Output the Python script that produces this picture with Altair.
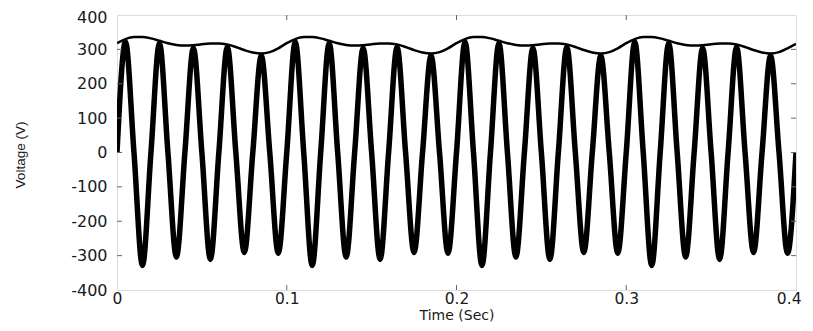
import altair as alt
import pandas as pd

# ---- data ----
# upper envelope, sampled every 0.005 s from 0 to 0.4 s (V)
envelope = [
    318, 330, 336, 336, 332, 325, 318, 313, 311, 312, 315, 317, 317, 314, 307, 298, 291, 288, 292, 303,
    318, 330, 336, 336, 332, 325, 318, 313, 311, 312, 315, 317, 317, 314, 307, 298, 291, 288, 292, 303,
    318, 330, 336, 336, 332, 325, 318, 313, 311, 312, 315, 317, 317, 314, 307, 298, 291, 288, 292, 303,
    318, 330, 336, 336, 332, 325, 318, 313, 311, 312, 315, 317, 317, 314, 307, 298, 291, 288, 292, 303,
    316,
]
# positive peaks of the 50 Hz wave (at 0.005 + 0.02k s)
pos_peaks = [322, 318, 304, 307, 282,
             322, 318, 304, 307, 282,
             322, 318, 304, 307, 282,
             322, 318, 304, 307, 282]
# negative peaks (at 0.015 + 0.02k s)
neg_peaks = [-329, -304, -311, -291, -293,
             -329, -304, -311, -291, -293,
             -329, -304, -311, -291, -293,
             -329, -304, -311, -291, -293]

x_ticks = [0, 0.1, 0.2, 0.3, 0.4]
y_ticks = [-400, -300, -200, -100, 0, 100, 200, 300, 400]
inner_x_ticks = [0.1, 0.2, 0.3]
inner_y_ticks = [-300, -200, -100, 0, 100, 200, 300]

step = 0.005

# ---- tables ----
env_df = pd.DataFrame({"t": [round(i * step, 3) for i in range(len(envelope))], "v": envelope})
sine_t, sine_v = [], []
for k in range(len(envelope)):
    sine_t.append(round(k * step, 3))
    if k % 2 == 0:
        sine_v.append(0)
    elif k % 4 == 1:
        sine_v.append(pos_peaks[k // 4])
    else:
        sine_v.append(neg_peaks[k // 4])
sine_df = pd.DataFrame({"t": sine_t, "v": sine_v})

W, H = 679, 275
LFONT = "DejaVu Sans"
TFONT = "Liberation Sans"

x_scale = alt.Scale(domain=[0, 0.4], nice=False, zero=False)
y_scale = alt.Scale(domain=[-400, 400], nice=False, zero=False)

x_axis = alt.Axis(
    values=x_ticks, format="~g", title="Time (Sec)", ticks=False, grid=False, domain=False,
    labelFont=LFONT, labelFontSize=15.5, labelColor="#1a1a1a", labelPadding=1,
    labelFlush=True, labelFlushOffset=5, labelOverlap=False,
    titleFont=LFONT, titleFontSize=14, titleFontWeight="normal", titleColor="#1a1a1a",
    titlePadding=2)
y_axis = alt.Axis(
    values=y_ticks, title="Voltage (V)", ticks=False, grid=False, domain=False,
    labelExpr="datum.value < 0 ? '-' + abs(datum.value) : '' + datum.value",
    labelFont=LFONT, labelFontSize=16, labelColor="#1a1a1a", labelPadding=10,
    labelOverlap=False, labelFlush=False,
    labelOffset={"condition": {"test": "datum.value == 400", "value": 2}, "value": 0},
    titleFont=TFONT, titleFontSize=13.5, titleFontWeight="normal", titleColor="#1a1a1a",
    titleX=-90, titleY=H / 2 + 2, titleAnchor="middle")


def X():
    return alt.X("t:Q", scale=x_scale, axis=x_axis)


def Y():
    return alt.Y("v:Q", scale=y_scale, axis=y_axis)


sine = alt.Chart(sine_df).mark_line(
    color="black", strokeWidth=5.5, interpolate="monotone", clip=True
).encode(x=X(), y=Y())

env = alt.Chart(env_df).mark_line(
    color="black", strokeWidth=2.5, interpolate="monotone", clip=True
).encode(x=X(), y=Y())

tick_col = "#666"
xt = pd.DataFrame({"t": inner_x_ticks})
yt = pd.DataFrame({"v": inner_y_ticks})
bottom_ticks = alt.Chart(xt).mark_rule(color=tick_col, strokeWidth=1).encode(
    x=X(), y=alt.value(H), y2=alt.value(H - 5))
top_ticks = alt.Chart(xt).mark_rule(color=tick_col, strokeWidth=1).encode(
    x=X(), y=alt.value(0), y2=alt.value(5))
left_ticks = alt.Chart(yt).mark_rule(color=tick_col, strokeWidth=1).encode(
    y=Y(), x=alt.value(0), x2=alt.value(5))
right_ticks = alt.Chart(yt).mark_rule(color=tick_col, strokeWidth=1).encode(
    y=Y(), x=alt.value(W), x2=alt.value(W - 5))

chart = alt.layer(
    sine, env, bottom_ticks, top_ticks, left_ticks, right_ticks
).properties(
    width=W, height=H,
    title=alt.TitleParams(
        "The flicker also reduces the life span of electronic equipment, lamps etc.",
        font="Liberation Serif", fontSize=22, fontWeight="normal", color="#111",
        anchor="start", frame="group", dx=-121, offset=8, baseline="alphabetic"),
    autosize=alt.AutoSizeParams(type="none"),
    padding={"left": 109, "top": 7, "right": 9, "bottom": 33},
).configure_view(stroke="#666", strokeWidth=1.5).configure(background="white")

chart.save("out.html", embed_options={"renderer": "svg", "actions": False})
